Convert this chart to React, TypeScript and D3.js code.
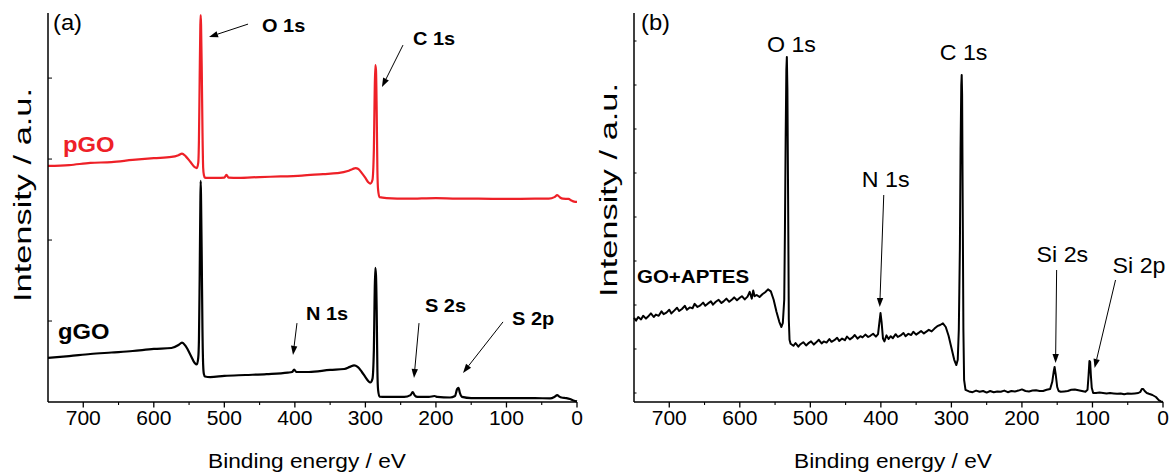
import React from "react";
import * as d3 from "d3";

// ---- Survey spectra (binding energy in eV, intensity in a.u.) ----
const pGO_eV = [750, 720, 690, 660, 630, 600, 575, 565, 560, 555, 548, 542, 539, 537, 536, 535, 534, 533.5, 533, 532, 531, 530, 529, 527.5, 525, 510, 500, 497, 494, 480, 450, 420, 390, 360, 340, 325, 318, 314, 310, 305, 300, 296, 293, 290, 288, 287, 286, 285, 284, 283, 282, 280, 270, 240, 200, 170, 140, 100, 60, 40, 32, 28, 24, 20, 12, 8, 4, 0];
const pGO_I = [78.7, 79.0, 79.7, 80.0, 80.7, 81.3, 81.7, 82.3, 82.8, 82.0, 80.0, 78.3, 78.0, 79.7, 87.3, 107.3, 125.7, 129.0, 125.7, 110.7, 90.7, 78.0, 75.7, 74.8, 74.7, 74.7, 74.8, 75.7, 74.8, 74.7, 75.0, 75.2, 75.5, 76.0, 76.3, 77.0, 77.7, 78.0, 77.7, 76.3, 74.7, 73.3, 72.8, 74.0, 84.0, 100.7, 112.3, 110.7, 97.3, 77.3, 70.7, 68.3, 68.0, 67.8, 68.0, 67.8, 67.8, 67.7, 67.8, 67.8, 68.3, 69.0, 68.2, 67.8, 67.7, 67.2, 66.8, 66.7];

const gGO_eV = [750, 720, 690, 660, 630, 600, 575, 565, 560, 555, 548, 542, 539, 537, 536, 535, 534, 533.5, 533, 532, 531, 530, 529, 527.5, 520, 500, 470, 440, 410, 404, 401, 398, 380, 350, 330, 322, 316, 311, 305, 300, 296, 293, 290, 288, 287, 286, 285, 284, 283, 282, 280, 270, 245, 236, 233, 230, 226, 210, 202, 198, 180, 173, 170, 168, 166, 163, 150, 120, 90, 60, 38, 32, 28, 25, 22, 15, 10, 5, 0];
const gGO_I = [14.7, 15.3, 16.0, 16.5, 17.0, 17.7, 18.0, 19.0, 19.8, 18.7, 15.7, 13.0, 12.5, 14.7, 20.7, 40.7, 65.7, 73.7, 67.3, 47.3, 24.0, 12.3, 9.3, 8.5, 8.3, 8.7, 9.0, 9.3, 9.8, 10.0, 10.8, 10.0, 10.0, 10.7, 11.0, 11.7, 12.2, 11.7, 10.0, 8.3, 7.0, 6.5, 7.7, 17.3, 34.0, 44.7, 42.3, 30.7, 10.7, 4.0, 1.8, 1.7, 1.7, 2.3, 3.3, 2.2, 1.7, 1.7, 2.0, 1.7, 1.5, 2.0, 4.3, 4.7, 3.0, 1.7, 1.3, 1.3, 1.3, 1.3, 1.2, 1.7, 2.3, 1.8, 1.5, 1.3, 1.0, 0.5, 0.2];

const aptes_eV = [750, 747, 744, 740, 737, 733, 730, 726, 722, 719, 715, 711, 708, 704, 700, 697, 693, 689, 686, 682, 678, 675, 671, 667, 664, 660, 656, 652, 649, 645, 641, 638, 634, 630, 626, 623, 619, 615, 611, 608, 604, 600, 597, 593, 589, 586, 583, 581, 579, 576, 572, 568, 564, 560, 556, 552, 548, 544, 541, 539, 537, 536, 535, 534, 533.3, 532.5, 531.5, 530.5, 529.5, 528, 524, 521, 517, 514, 510, 506, 503, 499, 495, 492, 488, 484, 481, 477, 473, 470, 466, 462, 459, 455, 451, 448, 444, 440, 437, 433, 429, 426, 422, 418, 415, 411, 407, 404, 402, 400.5, 399, 397, 395, 392, 389, 386, 383, 379, 376, 372, 368, 365, 361, 357, 354, 350, 346, 343, 339, 335, 332, 328, 324, 320, 316, 312, 308, 304, 300, 296, 293, 291, 289.5, 288, 287, 286, 285.4, 284.8, 284, 283, 282, 280, 275, 270, 265, 260, 255, 250, 245, 240, 235, 230, 225, 220, 215, 210, 205, 200, 195, 190, 185, 180, 175, 170, 165, 160, 157, 155, 153.7, 152, 150, 148, 145, 140, 135, 130, 125, 120, 115, 110, 107, 105.5, 104.3, 103.3, 102.3, 101, 99, 95, 90, 85, 80, 75, 70, 65, 60, 55, 50, 45, 40, 35, 32, 30, 28, 26, 23, 20, 15, 10, 6, 3, 0];
const aptes_I = [18.8, 18.1, 19.0, 18.4, 19.3, 18.6, 19.1, 19.9, 19.0, 19.6, 19.3, 20.4, 19.7, 20.1, 20.8, 19.9, 20.6, 21.3, 20.5, 21.0, 21.8, 20.8, 21.4, 21.2, 22.3, 21.5, 21.9, 22.6, 21.8, 22.4, 22.9, 22.1, 22.8, 23.3, 22.5, 22.9, 23.6, 22.8, 23.4, 23.9, 23.2, 23.8, 24.2, 23.4, 24.1, 25.3, 23.6, 25.6, 24.2, 24.5, 24.0, 24.7, 25.2, 25.9, 25.4, 23.3, 20.3, 17.8, 16.5, 17.5, 23.3, 40.8, 63.3, 80.8, 84.0, 75.8, 48.3, 18.3, 13.3, 12.3, 11.8, 12.5, 11.6, 12.2, 12.7, 11.9, 12.4, 12.9, 12.1, 12.6, 13.3, 12.4, 12.9, 12.6, 13.5, 12.8, 13.2, 13.8, 13.0, 13.6, 13.2, 14.1, 13.4, 13.9, 14.5, 13.6, 14.2, 13.9, 14.6, 14.0, 14.3, 14.8, 14.1, 14.7, 17.8, 20.0, 17.8, 13.6, 12.9, 14.4, 13.5, 14.2, 13.7, 14.7, 14.0, 14.4, 15.0, 14.2, 14.8, 14.5, 15.3, 14.6, 15.1, 15.5, 14.9, 15.4, 15.8, 15.4, 16.1, 16.7, 17.0, 17.4, 16.5, 14.3, 11.3, 8.3, 7.0, 8.3, 15.8, 35.8, 60.8, 77.0, 79.5, 74.5, 48.3, 15.8, 3.3, 0.8, 0.4, 0.2, 0.6, 0.3, 0.5, 0.1, 0.5, 0.2, 0.4, 0.3, 0.6, 0.2, 0.5, 0.4, 0.6, 0.9, 0.5, 0.4, 0.6, 0.7, 0.5, 0.5, 0.8, 1.0, 2.8, 5.3, 6.5, 4.5, 1.5, 0.5, 0.3, 0.4, 0.5, 0.8, 0.9, 0.7, 0.5, 0.3, 0.8, 4.5, 8.0, 7.8, 4.5, 1.3, 0.0, 0.0, 0.1, 0.0, -0.1, 0.0, -0.1, -0.2, -0.1, -0.3, -0.1, -0.2, -0.1, 0.0, 0.3, 1.0, 1.0, 0.5, 0.0, -0.2, -0.5, -1.0, -1.8, -2.1, -2.25];

// axis settings
const energyDomain = [750, 0];
const energyMajor = [700, 600, 500, 400, 300, 200, 100, 0];
const energyMinor = [650, 550, 450, 350, 250, 150, 50];
const yDomainA = [0, 129.7];
const yTicksA = [27, 54, 81, 108];
const yDomainB = [-2.25, 95];
const yTicksB = [0, 11, 22, 33, 44, 55, 66, 77, 88];

type Ann = { text: string; at: [number, number]; from?: [number, number]; to?: [number, number]; bold?: boolean; color?: string; size: number };

const annA: Ann[] = [
  { text: "(a)", at: [742.9, 124], size: 22 },
  { text: "O 1s", at: [446.6, 123.3], from: [466.4, 126], to: [521.7, 121.7], bold: true, size: 18.5 },
  { text: "C 1s", at: [232.5, 119], from: [246.7, 119], to: [276.5, 105], bold: true, size: 18.5 },
  { text: "N 1s", at: [384.2, 27.3], from: [397, 26.3], to: [402.6, 15.7], bold: true, size: 18.5 },
  { text: "S 2s", at: [215.5, 30], from: [224, 26.3], to: [231.1, 8], bold: true, size: 18.5 },
  { text: "S 2p", at: [92.1, 25.7], from: [104.9, 26.7], to: [161.6, 9.7], bold: true, size: 18.5 },
  { text: "pGO", at: [728.7, 83.3], bold: true, color: "#ee2027", size: 22 },
  { text: "gGO", at: [735.8, 21], bold: true, size: 22 },
];

const annB: Ann[] = [
  { text: "(b)", at: [740.1, 90.75], size: 22 },
  { text: "O 1s", at: [561.6, 85.25], size: 21.5 },
  { text: "C 1s", at: [316.6, 83.25], size: 21.5 },
  { text: "N 1s", at: [427, 51.5], from: [395.9, 49.5], to: [401.6, 21.5], size: 21.5 },
  { text: "Si 2s", at: [179.2, 32.75], from: [150.8, 30.75], to: [152.3, 7.5], size: 21.5 },
  { text: "Si 2p", at: [71.5, 30], from: [67.3, 28.25], to: [97, 6.25], size: 21.5 },
  { text: "GO+APTES", at: [745.8, 27.5], bold: true, size: 19 },
];

const FONT = "'Liberation Sans', Arial, Helvetica, sans-serif";
const SX = 1.08;

const top = 13;
const bottom = 402;

function Label({ x, y, size, bold, color, anchor, children }: any) {
  return (
    <text
      transform={`translate(${x},${y}) scale(${SX},1)`}
      fontFamily={FONT}
      fontSize={size}
      fontWeight={bold ? "bold" : "normal"}
      fill={color || "#000"}
      textAnchor={anchor || "start"}
    >
      {children}
    </text>
  );
}

function Arrow({ x1, y1, x2, y2 }: { x1: number; y1: number; x2: number; y2: number }) {
  const ang = Math.atan2(y2 - y1, x2 - x1);
  const L = 9;
  const W = 3.2;
  const bx = x2 - L * Math.cos(ang);
  const by = y2 - L * Math.sin(ang);
  const px = -Math.sin(ang) * W;
  const py = Math.cos(ang) * W;
  return (
    <g>
      <line x1={x1} y1={y1} x2={bx} y2={by} stroke="#000" strokeWidth={1} />
      <path d={`M${x2},${y2}L${bx + px},${by + py}L${bx - px},${by - py}Z`} fill="#000" />
    </g>
  );
}

function Panel({ left, right, yDomain, yTicks, tickLen, series, anns, titleX, titleY, curve }: any) {
  const x = d3.scaleLinear().domain(energyDomain).range([left, right]);
  const y = d3.scaleLinear().domain(yDomain).range([bottom, top]);
  const line = d3
    .line<[number, number]>()
    .x((d) => x(d[0]))
    .y((d) => y(d[1]))
    .curve(curve);
  return (
    <g>
      {series.map((s: any, i: number) => (
        <path
          key={i}
          d={line(s.eV.map((e: number, j: number) => [e, s.I[j]]) as [number, number][]) || ""}
          fill="none"
          stroke={s.color}
          strokeWidth={s.width}
          strokeLinejoin="round"
        />
      ))}
      {/* axes */}
      <line x1={left} y1={top} x2={left} y2={bottom} stroke="#000" strokeWidth={1.5} />
      <line x1={left} y1={bottom} x2={right} y2={bottom} stroke="#000" strokeWidth={1.5} />
      {yTicks.map((t: number) => (
        <line key={t} x1={left} x2={left + tickLen} y1={y(t)} y2={y(t)} stroke="#000" strokeWidth={1} />
      ))}
      {energyMajor.map((t) => (
        <g key={t}>
          <line x1={x(t)} x2={x(t)} y1={bottom} y2={bottom + 5.5} stroke="#000" strokeWidth={1.3} />
          <Label x={x(t)} y={425} size={19.5} anchor="middle">
            {t}
          </Label>
        </g>
      ))}
      {energyMinor.map((t) => (
        <line key={t} x1={x(t)} x2={x(t)} y1={bottom} y2={bottom + 3} stroke="#000" strokeWidth={1.1} />
      ))}
      <Label x={titleX} y={468} size={21} anchor="middle">
        Binding energy / eV
      </Label>
      <text
        transform={`translate(${left - 17},${titleY}) rotate(-90)`}
        fontFamily={FONT}
        fontSize={23}
        textAnchor="middle"
        textLength={214}
        lengthAdjust="spacingAndGlyphs"
      >
        Intensity / a.u.
      </text>
      {anns.map((a: Ann, i: number) => (
        <g key={i}>
          {a.from && a.to && <Arrow x1={x(a.from[0])} y1={y(a.from[1])} x2={x(a.to[0])} y2={y(a.to[1])} />}
          <Label x={x(a.at[0])} y={y(a.at[1])} size={a.size} bold={a.bold} color={a.color}>
            {a.text}
          </Label>
        </g>
      ))}
    </g>
  );
}

export default function App() {
  return (
    <svg width={1172} height={473} style={{ position: "absolute", left: 0, top: 0, background: "#fff" }}>
      <rect width={1172} height={473} fill="#fff" />
      <Panel
        left={48}
        right={577}
        yDomain={yDomainA}
        yTicks={yTicksA}
        tickLen={4}
        titleX={307}
        titleY={195}
        curve={d3.curveMonotoneX}
        series={[
          { eV: pGO_eV, I: pGO_I, color: "#ee2027", width: 2.2 },
          { eV: gGO_eV, I: gGO_I, color: "#000", width: 2.2 },
        ]}
        anns={annA}
      />
      <Panel
        left={634}
        right={1163}
        yDomain={yDomainB}
        yTicks={yTicksB}
        tickLen={2.5}
        titleX={893}
        titleY={190}
        curve={d3.curveLinear}
        series={[{ eV: aptes_eV, I: aptes_I, color: "#000", width: 2 }]}
        anns={annB}
      />
    </svg>
  );
}
